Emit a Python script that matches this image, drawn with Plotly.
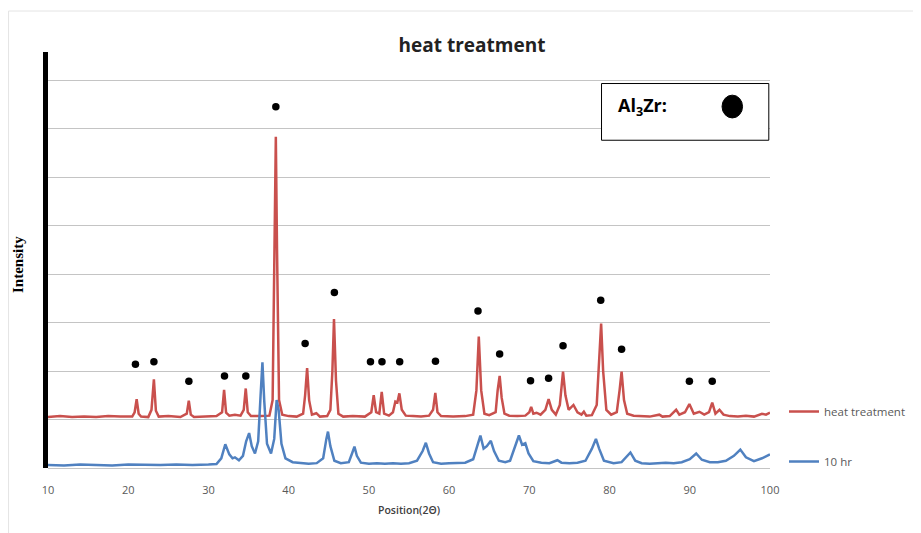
import plotly.graph_objects as go

# ---- data ----
heat_x = [10.0, 11.5, 13.0, 14.5, 16.0, 17.5, 19.0, 20.5, 20.8, 21.05, 21.3, 21.6, 22.5, 22.9, 23.2, 23.45, 23.8,
          25.0, 26.5, 27.3, 27.55, 27.8, 28.2, 29.5, 31.0, 31.7, 31.95, 32.2, 32.6, 33.3, 34.0, 34.4, 34.65, 34.9,
          35.3, 36.5, 37.6, 38.0, 38.25, 38.4, 38.55, 38.8, 39.2, 40.0, 41.0, 41.8, 42.05, 42.3, 42.55, 42.9, 43.45,
          43.9, 44.8, 45.2, 45.45, 45.65, 45.9, 46.2, 46.8, 48.0, 49.5, 50.3, 50.6, 50.9, 51.3, 51.6, 51.9, 52.5,
          53.0, 53.3, 53.55, 53.8, 54.1, 54.6, 55.5, 56.5, 57.5, 58.0, 58.28, 58.55, 59.0, 60.5, 62.0, 63.0, 63.4,
          63.7, 64.0, 64.4, 65.0, 65.8, 66.05, 66.3, 66.55, 66.9, 67.5, 68.5, 69.5, 70.0, 70.23, 70.5, 70.9, 71.4,
          72.0, 72.4, 72.8, 73.3, 73.8, 74.2, 74.5, 74.9, 75.5, 76.0, 76.5, 76.8, 77.1, 77.8, 78.4, 78.7, 78.95,
          79.2, 79.6, 80.2, 80.9, 81.25, 81.5, 81.8, 82.2, 83.0, 84.0, 85.0, 86.2, 86.6, 87.5, 88.3, 88.7, 89.4,
          89.95, 90.5, 91.2, 91.8, 92.4, 92.8, 93.2, 93.7, 94.2, 95.0, 96.0, 97.0, 98.0, 99.0, 99.5, 100.0]
heat_y = [1.05, 1.07, 1.05, 1.06, 1.05, 1.07, 1.06, 1.06, 1.15, 1.42, 1.12, 1.06, 1.05, 1.2, 1.83, 1.18, 1.06,
          1.07, 1.05, 1.12, 1.39, 1.1, 1.05, 1.06, 1.07, 1.15, 1.61, 1.14, 1.08, 1.1, 1.08, 1.2, 1.64, 1.15,
          1.07, 1.07, 1.08, 1.4, 4.5, 6.83, 4.5, 1.4, 1.1, 1.07, 1.06, 1.12, 1.5, 2.06, 1.4, 1.1, 1.13,
          1.06, 1.07, 1.2, 2.0, 3.07, 1.8, 1.12, 1.06, 1.07, 1.06, 1.15, 1.5, 1.15, 1.12, 1.57, 1.12, 1.08,
          1.15, 1.37, 1.35, 1.54, 1.2, 1.08, 1.07, 1.06, 1.08, 1.2, 1.55, 1.15, 1.07, 1.06, 1.07, 1.1, 1.6,
          2.71, 1.6, 1.12, 1.09, 1.15, 1.6, 1.9, 1.45, 1.12, 1.08, 1.07, 1.08, 1.15, 1.26, 1.12, 1.14, 1.1,
          1.2, 1.42, 1.2, 1.1, 1.3, 1.99, 1.5, 1.2, 1.3, 1.15, 1.1, 1.16, 1.08, 1.09, 1.3, 2.2, 2.98,
          2.0, 1.2, 1.1, 1.15, 1.6, 1.99, 1.4, 1.12, 1.08, 1.07, 1.06, 1.1, 1.06, 1.07, 1.2, 1.1, 1.15,
          1.32, 1.12, 1.16, 1.1, 1.15, 1.35, 1.12, 1.2, 1.1, 1.07, 1.06, 1.08, 1.06, 1.12, 1.1, 1.14]

hr10_x = [10.0, 12.0, 14.0, 16.0, 18.0, 20.0, 22.0, 24.0, 26.0, 28.0, 30.0, 31.0, 31.6, 32.1, 32.6, 33.0, 33.3,
          33.8, 34.3, 34.7, 35.07, 35.4, 35.8, 36.2, 36.5, 36.73, 36.95, 37.3, 37.8, 38.2, 38.5, 38.75, 39.1,
          39.6, 40.5, 41.5, 42.5, 43.5, 44.3, 44.7, 44.9, 45.2, 45.7, 46.5, 47.5, 47.9, 48.2, 48.5, 49.0, 50.0,
          51.0, 52.0, 53.0, 54.0, 55.0, 56.0, 56.7, 57.1, 57.5, 58.0, 59.0, 60.0, 61.0, 62.0, 63.0, 63.6, 63.9,
          64.3, 64.7, 65.2, 65.6, 66.2, 67.0, 67.6, 68.2, 68.7, 69.1, 69.5, 69.9, 70.5, 71.5, 72.5, 73.5, 74.0,
          75.0, 76.0, 77.0, 77.8, 78.3, 78.7, 79.3, 80.5, 81.5, 82.2, 82.6, 83.2, 84.0, 85.0, 86.0, 87.0, 88.0,
          89.0, 90.0, 90.8, 91.5, 92.5, 93.5, 94.5, 95.5, 96.3, 97.0, 98.0, 99.0, 100.0]
hr10_y = [0.06, 0.05, 0.07, 0.06, 0.05, 0.07, 0.06, 0.06, 0.07, 0.06, 0.07, 0.08, 0.2, 0.49, 0.28, 0.2, 0.22,
          0.16, 0.25, 0.55, 0.72, 0.45, 0.3, 0.55, 1.5, 2.18, 1.4, 0.5, 0.3, 0.6, 1.4, 1.2, 0.5,
          0.2, 0.12, 0.1, 0.09, 0.1, 0.2, 0.6, 0.75, 0.45, 0.15, 0.1, 0.12, 0.3, 0.44, 0.25, 0.11, 0.09,
          0.1, 0.09, 0.1, 0.09, 0.1, 0.15, 0.35, 0.52, 0.3, 0.12, 0.09, 0.1, 0.1, 0.11, 0.18, 0.5, 0.67,
          0.4, 0.45, 0.56, 0.35, 0.15, 0.12, 0.15, 0.45, 0.67, 0.48, 0.51, 0.3, 0.14, 0.11, 0.1, 0.16, 0.11,
          0.1, 0.11, 0.15, 0.4, 0.6, 0.4, 0.15, 0.1, 0.12, 0.25, 0.32, 0.15, 0.1, 0.09, 0.1, 0.11, 0.1,
          0.12, 0.18, 0.3, 0.17, 0.12, 0.12, 0.15, 0.25, 0.38, 0.22, 0.14, 0.2, 0.28]

dot_x = [20.9, 23.2, 27.56, 32.0, 34.66, 38.4, 42.05, 45.7, 50.2, 51.63, 53.84, 58.3, 63.6, 66.3, 70.15,
         72.4, 74.2, 78.9, 81.5, 89.95, 92.8]
dot_y = [2.14, 2.19, 1.79, 1.9, 1.9, 7.45, 2.57, 3.62, 2.19, 2.19, 2.19, 2.2, 3.24, 2.35, 1.8,
         1.85, 2.52, 3.46, 2.45, 1.79, 1.79]

x_ticks = [10, 20, 30, 40, 50, 60, 70, 80, 90, 100]

RED = "#C9504D"
BLUE = "#5081C0"
GRID = "#C4C4C4"
FONT = "Open Sans"

# the page body adds an 8px offset, so the figure is 8px smaller than the window
W, H = 913, 525
OFF = 8
PL, PT, PW, PH = 48 - OFF, 52 - OFF, 723, 416   # plot area in figure pixels

fig = go.Figure()
fig.add_trace(go.Scatter(x=heat_x, y=heat_y, mode="lines", name="heat treatment",
                         line=dict(color=RED, width=2.5), legendgroup="a"))
fig.add_trace(go.Scatter(x=hr10_x, y=hr10_y, mode="lines", name="10 hr",
                         line=dict(color=BLUE, width=2.5), legendgroup="b"))
fig.add_trace(go.Scatter(x=dot_x, y=dot_y, mode="markers", showlegend=False,
                         marker=dict(color="black", size=7.5)))

fig.update_layout(
    width=W, height=H,
    paper_bgcolor="white", plot_bgcolor="white",
    margin=dict(l=PL, r=W - PL - PW, t=PT, b=H - PT - PH),
    title=dict(text="<b>heat treatment</b>", x=(472 - OFF) / W, xref="container", xanchor="center",
               y=1 - (45 - OFF) / H, yanchor="middle",
               font=dict(family=FONT, size=19, color="#222222")),
    xaxis=dict(range=[10, 100], tickvals=x_ticks, ticktext=[str(v) for v in x_ticks],
               showgrid=False, zeroline=False, showline=False,
               ticks="outside", ticklen=12, tickcolor="rgba(0,0,0,0)",
               tickfont=dict(family=FONT, size=11, color="#595959"),
               title=dict(text="Position(2Θ)",
                          font=dict(family=FONT, size=10.5, color="#404040", weight=600),
                          standoff=10)),
    yaxis=dict(range=[0, 8.58], dtick=1, showticklabels=False, ticks="",
               showgrid=True, gridcolor=GRID, gridwidth=1,
               zeroline=True, zerolinecolor=GRID, zerolinewidth=1,
               showline=True, linecolor="black", linewidth=5),
    legend=dict(x=0.018, xanchor="left", y=0.0757, yanchor="middle",
                font=dict(family=FONT, size=11.5, color="#595959"),
                tracegroupgap=31, itemwidth=30, bgcolor="rgba(0,0,0,0)"),
    showlegend=True,
)
# legend x is set relative to the right edge of the plot area
fig.update_layout(legend_x=1 + 13 / PW)

# Y axis title
fig.add_annotation(text="<b>Intensity</b>", xref="paper", yref="paper",
                   x=-30 / PW, y=(468 - 265) / PH, xanchor="center", yanchor="middle",
                   textangle=-90, showarrow=False,
                   font=dict(family="Liberation Serif", size=15, color="black"))

# Inset legend box for Al3Zr
fig.add_shape(type="rect", xref="x", yref="y", x0=79.0, x1=99.85, y0=6.76, y1=7.93,
              line=dict(color="black", width=1), fillcolor="white", layer="above")
fig.add_annotation(text="<b>Al<sub>3</sub>Zr:</b>", xref="x", yref="y", x=80.86, y=7.46,
                   xanchor="left", yanchor="middle", showarrow=False,
                   font=dict(family=FONT, size=18, color="black"))
fig.add_shape(type="circle", xref="x", yref="y", x0=94.02, x1=96.58, y0=7.22, y1=7.69,
              line=dict(color="black", width=1), fillcolor="black", layer="above")

# faint outer frame of the original chart
top_p = (468 - 11) / PH
left_p = -(PL - 0.5) / PW
fig.add_shape(type="line", xref="paper", yref="paper", x0=left_p, x1=1 + 150 / PW,
              y0=top_p, y1=top_p, line=dict(color="#E4E4E4", width=1))
fig.add_shape(type="line", xref="paper", yref="paper", x0=left_p, x1=left_p,
              y0=top_p, y1=-65 / PH, line=dict(color="#E4E4E4", width=1))

fig.write_html("out.html")
